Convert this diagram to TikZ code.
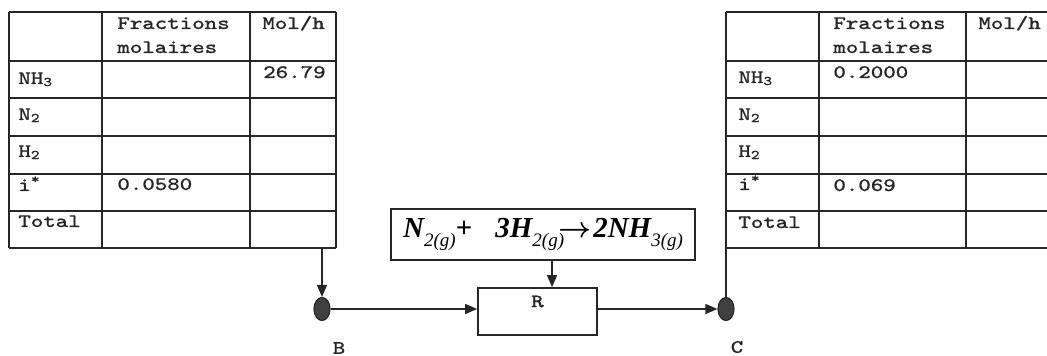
\documentclass[tikz,border=0pt]{standalone}
\usepackage{fontspec}
\usepackage{tikz}
\usetikzlibrary{shapes.geometric, arrows.meta, positioning}
\newfontfamily\tabfont[FakeStretch=1.25, FakeBold=0.8]{Latin Modern Mono}
\newfontfamily\rxfont{Liberation Serif}
\newcommand{\rxsub}[1]{\raisebox{-0.65ex}{\fontsize{9.5}{9.5}\selectfont\mdseries #1}}

\begin{document}
\begin{tikzpicture}[
    x=0.5pt, y=-0.5pt,
    grid/.style={line width=0.85pt, draw=black!85},
    cell/.style={font=\tabfont\fontsize{9.5}{12}\selectfont, anchor=base west,
                 inner sep=0pt, text=black!85},
    unit/.style={rectangle, draw=black!85, line width=0.85pt, inner sep=0pt},
    arrow/.style={-{Triangle[length=6pt, width=5pt]}, line width=0.75pt, color=black!85},
    junction/.style={ellipse, fill=black!75, draw=black!85, line width=0.6pt,
                     minimum width=8pt, minimum height=11.5pt, inner sep=0pt},
    tag/.style={font=\tabfont\fontsize{9.5}{12}\selectfont, text=black!85, inner sep=0pt}
]
\useasboundingbox (0,0) rectangle (1047,356);
\clip (0,0) rectangle (1047,356);

% Table of stream B
\foreach \y in {12,61,98,136,174,211,248}
    \draw[grid] (9,\y) -- (336,\y);
\foreach \x in {9,102,250,336}
    \draw[grid] (\x,12) -- (\x,248);
\node[cell, align=left] (lfrac) at (117,53) {Fractions\\molaires};
\node[cell] (lmol) at (262,29) {Mol/h};
\node[cell] (lnh) at (18,84) {NH\textsubscript{3}};
\node[cell] (ln) at (18,120) {N\textsubscript{2}};
\node[cell] (lh) at (18,157) {H\textsubscript{2}};
\node[cell] (li) at (18,191) {i\textsuperscript{*}};
\node[cell] (ltot) at (18,227) {Total};
\node[cell, anchor=base east] (lnhmol) at (326,78) {26.79};
\node[cell] (lifrac) at (117,190) {0.0580};

% Table of stream C
\foreach \y in {12,61,98,136,174,211,248}
    \draw[grid] (726,\y) -- (1060,\y);
\foreach \x in {726,819,966}
    \draw[grid] (\x,12) -- (\x,248);
\node[cell, align=left] (rfrac) at (833,53) {Fractions\\molaires};
\node[cell] (rmol) at (978,29) {Mol/h};
\node[cell] (rnh) at (738,83) {NH\textsubscript{3}};
\node[cell] (rn) at (738,120) {N\textsubscript{2}};
\node[cell] (rh) at (738,157) {H\textsubscript{2}};
\node[cell] (ri) at (738,190) {i\textsuperscript{*}};
\node[cell] (rtot) at (738,228) {Total};
\node[cell] (rnhfrac) at (833,78) {0.2000};
\node[cell] (rifrac) at (833,191) {0.069};

% Reaction and reactor
\node[unit, minimum width=152pt, minimum height=25.5pt] (rx) at (543,234.5) {
    \rxfont\bfseries\itshape\fontsize{14.5}{14.5}\selectfont
    N\rxsub{2(g)}+\hspace{0.8em}3H\rxsub{2(g)}\kern-3pt{\boldmath$\rightarrow$}\kern1pt2NH\rxsub{3(g)}
};
\node[unit, minimum width=59.5pt, minimum height=23.5pt,
      label={[tag, below=4pt]north:R}] (R) at (537.5,311.5) {};

% Junctions
\node[junction] (B) at (322,309) {};
\node[junction] (C) at (726,309) {};
\node[tag] (Blbl) at (339,348) {B};
\node[tag] (Clbl) at (737,347) {C};
\coordinate (lout) at (322,248);
\coordinate (rin) at (726,248);

% Arrows
\draw[arrow] (lout) -- (B);
\draw[arrow] (B) -- (B -| R.west);
\draw[arrow] ([xshift=4.5pt]rx.south) -- ([xshift=4.5pt]rx.south |- R.north);
\draw[arrow] (R.east |- C) -- (C);
\draw[grid] (rin) -- (C);

\end{tikzpicture}
\end{document}
